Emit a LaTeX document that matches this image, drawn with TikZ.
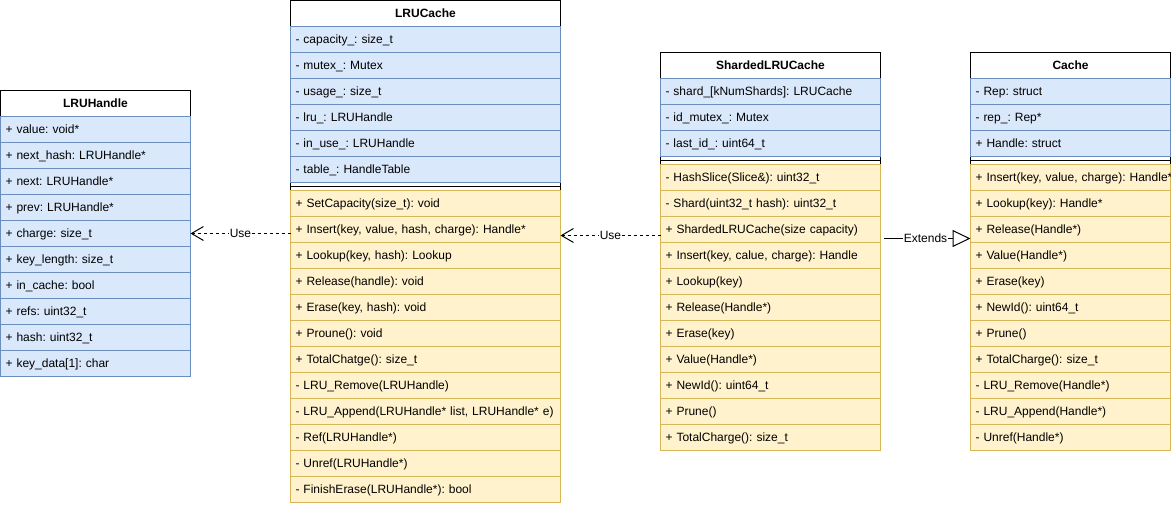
\documentclass[tikz,border=0pt]{standalone}
\usepackage{fontspec}
\setmainfont{Liberation Sans}
\usetikzlibrary{positioning, arrows.meta, backgrounds}
\frenchspacing

\definecolor{attrfill}{HTML}{DAE8FC}
\definecolor{attrline}{HTML}{6C8EBF}
\definecolor{methfill}{HTML}{FFF2CC}
\definecolor{methline}{HTML}{D6B656}

\begin{document}
\begin{tikzpicture}[x=1pt, y=1pt, line width=1pt,
    font=\fontsize{12}{14}\selectfont,
    classhead/.style={draw, fill=white, font=\fontsize{12}{14}\selectfont\bfseries,
      minimum width=#1, minimum height=26pt, inner sep=0pt, outer sep=0pt,
      text height=9pt, text depth=2pt},
    rowbox/.style={text width=#1, minimum height=26pt, inner xsep=5pt,
      inner ysep=0pt, outer sep=0pt, align=left, text height=9pt, text depth=2pt},
    attr/.style={rowbox=#1, draw=attrline, fill=attrfill},
    meth/.style={rowbox=#1, draw=methline, fill=methfill},
    sepbox/.style={minimum width=#1, minimum height=8pt, inner sep=0pt, outer sep=0pt},
    usearrow/.style={dash pattern=on 3pt off 3pt, -{Straight Barb[length=12pt, width=14pt]}},
    extarrow/.style={-{Triangle[open, length=18pt, width=17pt]}},
    lbl/.style={fill=white, inner sep=1pt}]
  \useasboundingbox (0,0) rectangle (1171,-506);

  % LRUHandle
  \node[classhead=190pt, alias=handleA0] (handle) at (95.5,-103.5) {LRUHandle};
  \foreach \t [count=\i, remember=\i as \j (initially 0)] in {+ value: void*,
      + next\_hash: LRUHandle*, + next: LRUHandle*, + prev: LRUHandle*,
      + charge: size\_t, + key\_length: size\_t, + in\_cache: bool,
      + refs: uint32\_t, + hash: uint32\_t, + key\_data[1]: char}
    \node[attr=180pt, below=0pt of handleA\j] (handleA\i) {\t};

  % LRUCache
  \node[classhead=270pt, alias=lruA0] (lru) at (425.5,-13.5) {LRUCache};
  \foreach \t [count=\i, remember=\i as \j (initially 0)] in {- capacity\_: size\_t,
      - mutex\_: Mutex, - usage\_: size\_t, - lru\_: LRUHandle,
      - in\_use\_: LRUHandle, - table\_: HandleTable}
    \node[attr=260pt, below=0pt of lruA\j] (lruA\i) {\t};
  \node[sepbox=270pt, below=0pt of lruA6, alias=lruM0] (lruS) {};
  \foreach \t [count=\i, remember=\i as \j (initially 0)] in {+ SetCapacity(size\_t): void,
      {+ Insert(key, value, hash, charge): Handle*}, {+ Lookup(key, hash): Lookup},
      + Release(handle): void, {+ Erase(key, hash): void}, + Proune(): void,
      + TotalChatge(): size\_t, - LRU\_Remove(LRUHandle),
      {- LRU\_Append(LRUHandle* list, LRUHandle* e)}, - Ref(LRUHandle*),
      - Unref(LRUHandle*), - FinishErase(LRUHandle*): bool}
    \node[meth=260pt, below=0pt of lruM\j] (lruM\i) {\t};

  % ShardedLRUCache
  \node[classhead=220pt, alias=shardA0] (shard) at (770.5,-65.5) {ShardedLRUCache};
  \foreach \t [count=\i, remember=\i as \j (initially 0)] in {- shard\_[kNumShards]: LRUCache,
      - id\_mutex\_: Mutex, - last\_id\_: uint64\_t}
    \node[attr=210pt, below=0pt of shardA\j] (shardA\i) {\t};
  \node[sepbox=220pt, below=0pt of shardA3, alias=shardM0] (shardS) {};
  \foreach \t [count=\i, remember=\i as \j (initially 0)] in {- HashSlice(Slice\&): uint32\_t,
      - Shard(uint32\_t hash): uint32\_t, + ShardedLRUCache(size capacity),
      {+ Insert(key, calue, charge): Handle}, + Lookup(key), + Release(Handle*),
      + Erase(key), + Value(Handle*), + NewId(): uint64\_t, + Prune(),
      + TotalCharge(): size\_t}
    \node[meth=210pt, below=0pt of shardM\j] (shardM\i) {\t};

  % Cache
  \node[classhead=200pt, alias=cacheA0] (cache) at (1070.5,-65.5) {Cache};
  \foreach \t [count=\i, remember=\i as \j (initially 0)] in {- Rep: struct,
      - rep\_: Rep*, + Handle: struct}
    \node[attr=190pt, below=0pt of cacheA\j] (cacheA\i) {\t};
  \node[sepbox=200pt, below=0pt of cacheA3, alias=cacheM0] (cacheS) {};
  \foreach \t [count=\i, remember=\i as \j (initially 0)] in {{\mbox{+ Insert(key, value, charge): Handle*}},
      + Lookup(key): Handle*, + Release(Handle*), + Value(Handle*), + Erase(key),
      + NewId(): uint64\_t, + Prune(), + TotalCharge(): size\_t,
      - LRU\_Remove(Handle*), - LRU\_Append(Handle*), - Unref(Handle*)}
    \node[meth=190pt, below=0pt of cacheM\j] (cacheM\i) {\t};

  % separators and outer frames
  \foreach \s in {lruS, shardS, cacheS}
    \draw (\s.west) -- (\s.east);
  \begin{scope}[on background layer]
    \draw (lru.north west) rectangle (lruM12.south east);
    \draw (shard.north west) rectangle (shardM11.south east);
    \draw (cache.north west) rectangle (cacheM11.south east);
  \end{scope}

  % relations
  \draw[usearrow] (lruM2.west |- handleA5) -- node[lbl] {Use} (handleA5.east);
  \draw[usearrow] ([yshift=-6pt]shardM3.west) -- node[lbl] {Use} ([yshift=-6pt]lruM2.east);
  \draw[extarrow, shorten <=3pt] ([yshift=-9pt]shardM3.east)
    -- node[lbl] {Extends} ([yshift=-9pt]shardM3.east -| cacheM3.west);
\end{tikzpicture}
\end{document}
